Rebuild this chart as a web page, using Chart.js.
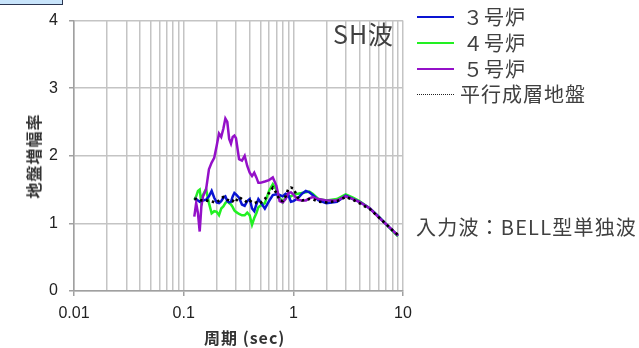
<!DOCTYPE html>
<html>
<head>
<meta charset="utf-8">
<script src="https://cdn.jsdelivr.net/npm/chart.js@4.4.1/dist/chart.umd.min.js"></script>
<style>
  html, body { margin: 0; padding: 0; background: #fff; }
  #wrap { position: relative; width: 639px; height: 348px; overflow: hidden; }
  #chart { position: absolute; left: 0; top: 0; }
  .txt { position: absolute; color: #404040; font-family: "Noto Sans CJK JP", "Noto Sans", sans-serif; white-space: nowrap; line-height: 1; }
  .lg { position: absolute; width: 37px; height: 0; }
  #corner { position: absolute; left: -1px; top: -1px; width: 62px; height: 4px; background: #c8e4fb; border: 1px solid #2b3550; }
</style>
</head>
<body>
<div id="wrap">
  <canvas id="chart" width="639" height="348"></canvas>
  <div id="corner"></div>
  <div class="txt" style="left:333px; top:21px; font-size:25px; letter-spacing:1px;">SH波</div>
  <div class="txt" style="left:416px; top:217px; font-size:20px; letter-spacing:1.2px;">入力波：BELL型単独波</div>
  <div class="txt" style="left:204px; top:329px; font-size:16px; letter-spacing:1px; font-weight:bold; color:#333;">周期 (sec)</div>
  <div class="txt" style="left:33px; top:156px; font-size:16px; letter-spacing:1px; font-weight:bold; color:#333; transform: translate(-50%,-50%) rotate(-90deg);">地盤増幅率</div>
  <div id="legend"></div>
</div>
<script>
'use strict';

// periods (sec) shared by all series
var periods = [0.125, 0.13, 0.135, 0.14, 0.145, 0.15, 0.16, 0.17, 0.18, 0.19,
    0.20, 0.21, 0.22, 0.23, 0.24, 0.25, 0.26, 0.27, 0.28, 0.29,
    0.30, 0.32, 0.34, 0.36, 0.38, 0.40, 0.42, 0.44, 0.46, 0.48,
    0.50, 0.55, 0.60, 0.65, 0.70, 0.75, 0.80, 0.85, 0.90, 0.95,
    1.0, 1.1, 1.2, 1.3, 1.4, 1.5, 1.7, 2.0, 2.5, 3.0,
    3.5, 4.0, 5.0, 6.0, 7.0, 8.0, 9.0];

var unit3 = [1.36, 1.36, 1.34, 1.32, 1.34, 1.34, 1.35, 1.40, 1.48, 1.38,
    1.31, 1.30, 1.33, 1.38, 1.40, 1.33, 1.31, 1.32, 1.40, 1.45,
    1.43, 1.38, 1.28, 1.26, 1.33, 1.36, 1.22, 1.18, 1.28, 1.36,
    1.32, 1.22, 1.33, 1.42, 1.43, 1.42, 1.40, 1.44, 1.42, 1.32,
    1.33, 1.37, 1.44, 1.48, 1.46, 1.42, 1.34, 1.30, 1.32, 1.41,
    1.36, 1.32, 1.22, 1.10, 0.99, 0.90, 0.82];

var unit4 = [1.35, 1.40, 1.48, 1.50, 1.30, 1.42, 1.51, 1.30, 1.15, 1.18,
    1.17, 1.12, 1.22, 1.25, 1.30, 1.33, 1.30, 1.28, 1.24, 1.19,
    1.17, 1.14, 1.12, 1.12, 1.16, 1.12, 0.98, 1.08, 1.15, 1.24,
    1.26, 1.30, 1.48, 1.58, 1.50, 1.38, 1.31, 1.38, 1.41, 1.40,
    1.42, 1.44, 1.45, 1.46, 1.47, 1.44, 1.36, 1.34, 1.36, 1.43,
    1.38, 1.33, 1.22, 1.10, 0.99, 0.89, 0.81];

var unit5 = [1.10, 1.30, 1.15, 0.88, 1.25, 1.40, 1.50, 1.80, 1.90, 1.97,
    2.15, 2.33, 2.28, 2.40, 2.55, 2.50, 2.25, 2.18, 2.28, 2.30,
    2.26, 1.95, 1.93, 2.00, 1.85, 1.75, 1.70, 1.75, 1.68, 1.60,
    1.60, 1.62, 1.64, 1.68, 1.56, 1.33, 1.31, 1.36, 1.45, 1.46,
    1.43, 1.35, 1.34, 1.34, 1.37, 1.39, 1.36, 1.34, 1.34, 1.40,
    1.36, 1.32, 1.22, 1.09, 0.99, 0.90, 0.82];

var layered = [1.36, 1.36, 1.35, 1.35, 1.34, 1.34, 1.34, 1.33, 1.33, 1.31,
    1.31, 1.34, 1.37, 1.39, 1.38, 1.35, 1.34, 1.35, 1.33, 1.36,
    1.33, 1.39, 1.36, 1.34, 1.31, 1.34, 1.31, 1.30, 1.31, 1.29,
    1.30, 1.36, 1.45, 1.53, 1.45, 1.34, 1.33, 1.40, 1.51, 1.53,
    1.52, 1.38, 1.34, 1.35, 1.36, 1.36, 1.32, 1.31, 1.33, 1.39,
    1.35, 1.30, 1.21, 1.09, 0.99, 0.90, 0.83];

var seriesNames = ['３号炉', '４号炉', '５号炉', '平行成層地盤'];

var xTickValues = [0.01, 0.02, 0.03, 0.04, 0.05, 0.06, 0.07, 0.08, 0.09,
    0.1, 0.2, 0.3, 0.4, 0.5, 0.6, 0.7, 0.8, 0.9,
    1, 2, 3, 4, 5, 6, 7, 8, 9, 10];
var xTickLabels = { 0.01: '0.01', 0.1: '0.1', 1: '1', 10: '10' };

function toPoints(values) {
    return periods.map(function (p, i) { return { x: p, y: values[i] }; });
}

var datasets = [{
    label: seriesNames[0], data: toPoints(unit3),
    borderColor: '#0a14d2', borderWidth: 2.5, order: 2
}, {
    label: seriesNames[1], data: toPoints(unit4),
    borderColor: '#22f022', borderWidth: 2.5, order: 3
}, {
    label: seriesNames[2], data: toPoints(unit5),
    borderColor: '#9410c8', borderWidth: 2.5, order: 1
}, {
    label: seriesNames[3], data: toPoints(layered),
    borderColor: '#000000', borderWidth: 2.6, borderDash: [2.5, 3.5], order: 0
}];

datasets.forEach(function (d) {
    d.pointRadius = 0;
    d.tension = 0;
    d.fill = false;
});

// legend on the right, drawn as html
var legendY = [17, 43, 69, 94];
var legendHtml = '';
datasets.forEach(function (d, i) {
    var dotted = i === 3;
    legendHtml += '<div class="lg" style="left:417px; top:' + (legendY[i] - (dotted ? 0 : 1)) + 'px; border-top:' +
        (dotted ? '1px dotted #222' : '2px solid ' + d.borderColor) + ';"></div>';
    legendHtml += '<div class="txt" style="left:' + (dotted ? 460 : 463) + 'px; top:' + (legendY[i] - 10) +
        'px; font-size:20px; letter-spacing:1px;">' + d.label + '</div>';
});
document.getElementById('legend').innerHTML = legendHtml;

var ctx = document.getElementById('chart').getContext('2d');
new Chart(ctx, {
    type: 'line',
    data: { datasets: datasets },
    options: {
        responsive: false,
        animation: false,
        layout: { padding: { left: 0, right: 236, top: 15, bottom: 0 } },
        plugins: { legend: { display: false }, tooltip: { enabled: false } },
        scales: {
            x: {
                type: 'logarithmic',
                min: 0.01,
                max: 10,
                afterBuildTicks: function (scale) {
                    scale.ticks = xTickValues.map(function (v) { return { value: v }; });
                },
                afterFit: function (scale) { scale.height = 57; },
                border: { color: '#a0a0a0', width: 1.5 },
                grid: {
                    color: '#c4c4c4',
                    lineWidth: 1.5,
                    tickLength: 5,
                    tickColor: function (c) { return xTickLabels[c.tick.value] ? '#a0a0a0' : 'rgba(0,0,0,0)'; }
                },
                ticks: {
                    autoSkip: false,
                    maxRotation: 0,
                    padding: 8,
                    color: '#222',
                    font: { family: '"Liberation Sans", Arial, sans-serif', size: 16 },
                    callback: function (v) { return xTickLabels[v] || ''; }
                }
            },
            y: {
                min: 0,
                max: 4,
                afterFit: function (scale) { scale.width = 74; },
                border: { color: '#a0a0a0', width: 1.5 },
                grid: { color: '#c4c4c4', lineWidth: 1.5, tickLength: 5, tickColor: '#a0a0a0' },
                ticks: {
                    stepSize: 1,
                    padding: 11,
                    color: '#222',
                    font: { family: '"Liberation Sans", Arial, sans-serif', size: 16 }
                }
            }
        }
    }
});
</script>
</body>
</html>
